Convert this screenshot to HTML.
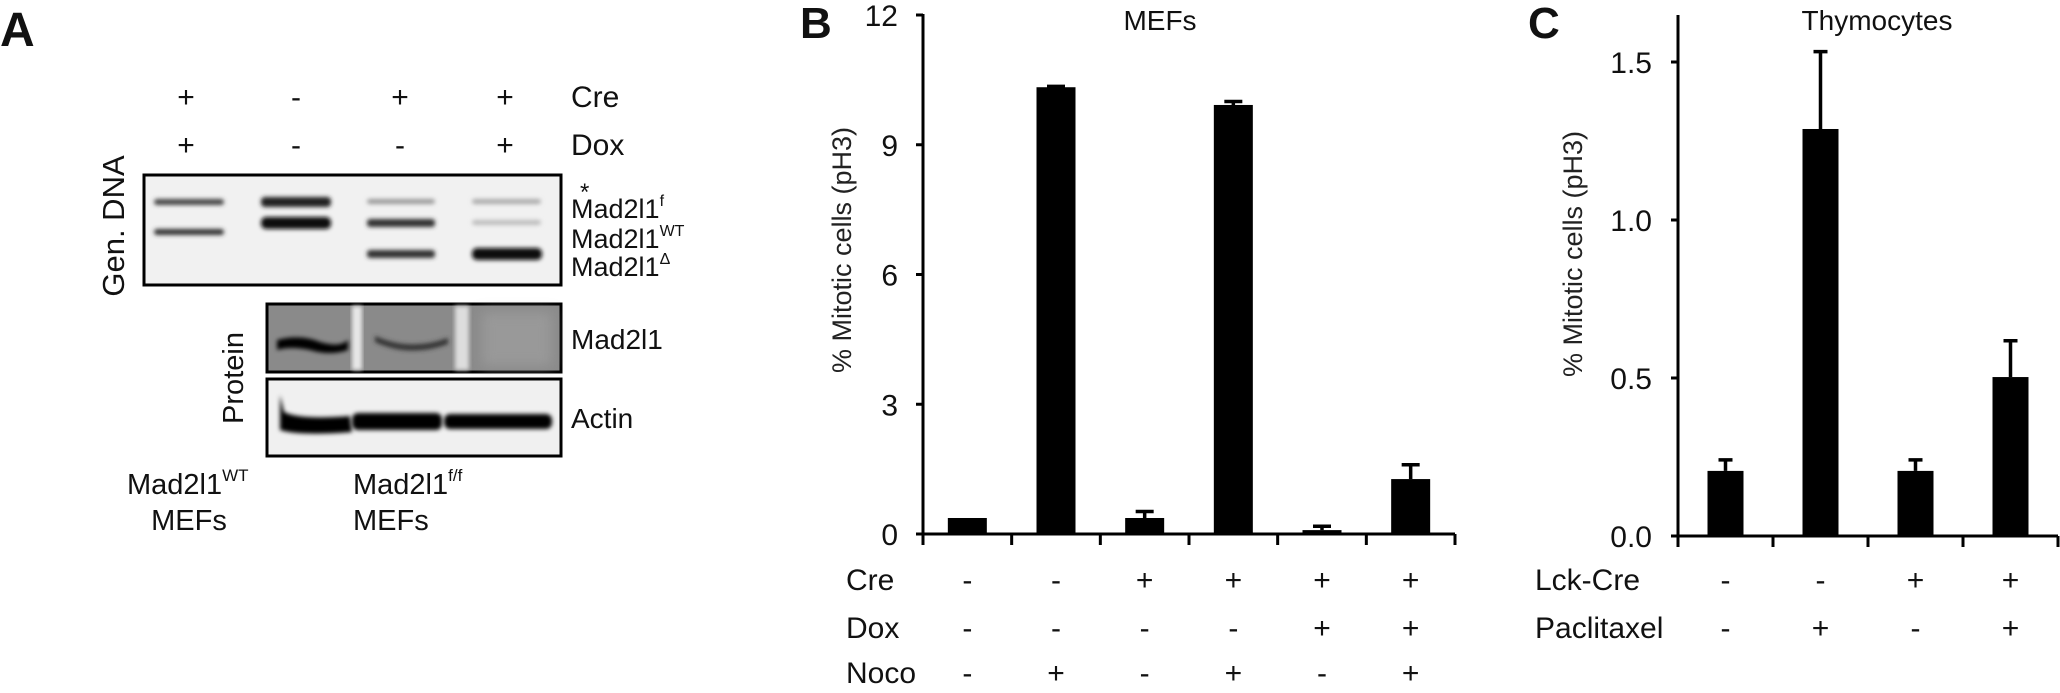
<!DOCTYPE html>
<html><head><meta charset="utf-8"><style>
html,body{margin:0;padding:0;background:#fff;}
svg{display:block;font-family:"Liberation Sans",Arial,sans-serif;}
</style></head><body>
<svg id="fig" width="2060" height="693" viewBox="0 0 2060 693" xmlns="http://www.w3.org/2000/svg">
<defs>
<filter id="blur2" x="-20%" y="-100%" width="140%" height="300%"><feGaussianBlur stdDeviation="2"/></filter>
<filter id="blur5" x="-20%" y="-50%" width="140%" height="200%"><feGaussianBlur stdDeviation="6"/></filter>
</defs>
<!-- Panel A -->
<g fill="#111">
<text x="0" y="46" font-size="48" font-weight="bold">A</text>
<g font-size="30" text-anchor="middle">
<text x="186" y="107">+</text><text x="296" y="107">-</text><text x="400" y="107">+</text><text x="505" y="107">+</text>
<text x="571" y="107" text-anchor="start">Cre</text></g>
<g font-size="30" text-anchor="middle">
<text x="186" y="155">+</text><text x="296" y="155">-</text><text x="400" y="155">-</text><text x="505" y="155">+</text>
<text x="571" y="155" text-anchor="start">Dox</text></g>
<text font-size="31" text-anchor="middle" transform="translate(124,226) rotate(-90)">Gen. DNA</text>
<g>
<rect x="144" y="175" width="417" height="110" fill="#f1f1f1" stroke="#000" stroke-width="3"/>
<g filter="url(#blur2)">
<rect x="154" y="199" width="70" height="6" rx="3" fill="#444"/>
<rect x="154" y="229" width="70" height="6" rx="3" fill="#333"/>
<rect x="261" y="197" width="70" height="10" rx="4" fill="#222"/>
<rect x="261" y="217" width="70" height="12" rx="5" fill="#111"/>
<rect x="367" y="199" width="68" height="5" rx="3" fill="#999"/>
<rect x="367" y="219" width="68" height="8" rx="3" fill="#333"/>
<rect x="367" y="250" width="68" height="8" rx="3" fill="#333"/>
<rect x="472" y="199" width="69" height="5" rx="3" fill="#aaa"/>
<rect x="472" y="220" width="69" height="5" rx="3" fill="#bbb"/>
<rect x="472" y="248" width="70" height="12" rx="5" fill="#111"/>
</g></g>
<text x="580" y="200" font-size="24">*</text>
<g font-size="27">
<text x="571" y="218">Mad2l1<tspan font-size="16" dy="-12">f</tspan></text>
<text x="571" y="248">Mad2l1<tspan font-size="16" dy="-12">WT</tspan></text>
<text x="571" y="276">Mad2l1<tspan font-size="16" dy="-12">Δ</tspan></text>
</g>
<text font-size="29" text-anchor="middle" transform="translate(243,378) rotate(-90)">Protein</text>
<g>
<rect x="267" y="304" width="294" height="68" fill="#8a8a8a" stroke="#000" stroke-width="3"/>
<rect x="352" y="306" width="10" height="64" fill="#e8e8e8" filter="url(#blur2)"/>
<rect x="455" y="306" width="14" height="64" fill="#ddd" filter="url(#blur2)"/>
<path d="M277 340 Q300 334 320 342 Q340 348 348 340 L348 350 Q330 356 310 350 Q290 346 277 350 Z" fill="#000" filter="url(#blur2)"/>
<path d="M375 336 Q410 352 448 338 L448 344 Q410 358 375 342 Z" fill="#333" filter="url(#blur2)"/>
<rect x="482" y="312" width="70" height="54" fill="#999" filter="url(#blur5)"/>
</g>
<text x="571" y="349" font-size="28">Mad2l1</text>
<g>
<rect x="267" y="379" width="294" height="77" fill="#f0f0f0" stroke="#000" stroke-width="3"/>
<path d="M280 395 L284 412 Q300 420 350 416 L352 432 Q300 436 280 430 Z" fill="#000" filter="url(#blur2)"/>
<rect x="352" y="413" width="90" height="17" rx="6" fill="#000" filter="url(#blur2)"/>
<rect x="444" y="414" width="108" height="15" rx="6" fill="#000" filter="url(#blur2)"/>
</g>
<text x="571" y="428" font-size="28">Actin</text>
<g font-size="29">
<text x="127" y="494">Mad2l1<tspan font-size="17" dy="-13">WT</tspan></text>
<text x="189" y="530" text-anchor="middle">MEFs</text>
<text x="353" y="494">Mad2l1<tspan font-size="17" dy="-13">f/f</tspan></text>
<text x="353" y="530">MEFs</text>
</g>
</g>
<g id="panelB"></g>
<g id="panelC"></g>
</svg>
<script>
// Panel B data
const bConditions = ["-/-/-", "-/-/+", "+/-/-", "+/-/+", "+/+/-", "+/+/+"];
const bValues = [0.37, 10.33, 0.37, 9.92, 0.09, 1.27];
const bErrors = [0.0, 0.02, 0.15, 0.08, 0.09, 0.33];
const bTicks = [0, 3, 6, 9, 12];
const bCre = ["-", "-", "+", "+", "+", "+"];
const bDox = ["-", "-", "-", "-", "+", "+"];
const bNoco = ["-", "+", "-", "+", "-", "+"];
// Panel C data
const cConditions = ["-/-", "-/+", "+/-", "+/+"];
const cValues = [0.206, 1.288, 0.206, 0.503];
const cErrors = [0.035, 0.245, 0.035, 0.115];
const cTicks = ["0.0", "0.5", "1.0", "1.5"];
const cLck = ["-", "-", "+", "+"];
const cPac = ["-", "+", "-", "+"];

const NS = "http://www.w3.org/2000/svg";
function mk(parent, tag, attrs, text) {
  const e = document.createElementNS(NS, tag);
  for (const k in attrs) e.setAttribute(k, attrs[k]);
  if (text !== undefined) e.textContent = text;
  parent.appendChild(e);
  return e;
}

function drawChart(g, cfg) {
  const y = v => cfg.y0 - v * cfg.ppu;
  const n = cfg.values.length;
  const step = (cfg.xEnd - cfg.x0) / n;
  const cx = i => cfg.x0 + (i + 0.5) * step;
  // letter
  const L = mk(g, "text", {x: cfg.letterX, y: 38, "font-size": 44, "font-weight": "bold", fill: "#111"}, cfg.letter);
  
  
  const T = mk(g, "text", {x: cfg.titleX, y: 30, "font-size": 28, "text-anchor": "middle", fill: "#111"}, cfg.title);
  
  
  // bars
  for (let i = 0; i < n; i++) {
    const v = cfg.values[i], e = cfg.errors[i];
    const b = mk(g, "rect", {x: cx(i) - cfg.bw / 2, y: y(v), width: cfg.bw, height: y(0) - y(v), fill: "#000"});
    
    
    if (e > 0) {
      const eb = mk(g, "path", {d: `M${cx(i)} ${y(v)} V${y(v + e)} M${cx(i) - cfg.cap / 2} ${y(v + e)} H${cx(i) + cfg.cap / 2}`, stroke: "#000", "stroke-width": 3.5, fill: "none"});
      
      
    }
  }
  // axes
  const ax = mk(g, "path", {d: `M${cfg.x0} ${cfg.yTop} V${cfg.y0} H${cfg.xEnd}`, stroke: "#000", "stroke-width": 3, fill: "none"});
  
  
  for (let i = 0; i <= n; i++) {
    const t = mk(g, "line", {x1: cfg.x0 + i * step, x2: cfg.x0 + i * step, y1: cfg.y0, y2: cfg.y0 + 11, stroke: "#000", "stroke-width": 3});
    
    
  }
  cfg.ticks.forEach(tv => {
    const v = parseFloat(tv);
    const t = mk(g, "line", {x1: cfg.x0 - 7, x2: cfg.x0, y1: y(v), y2: y(v), stroke: "#000", "stroke-width": 3});
    
    
    const l = mk(g, "text", {x: cfg.labelRight, y: y(v) + 11, "font-size": 30, "text-anchor": "end", fill: "#111"}, String(tv));
    
    
  });
  const yl = mk(g, "text", {transform: `translate(${cfg.yLabelX},${cfg.yLabelY}) rotate(-90)`, "font-size": 27, "text-anchor": "middle", fill: "#222"}, "% Mitotic cells (pH3)");
  
  
  cfg.rows.forEach((row, r) => {
    const ry = cfg.rowY[r];
    const rl = mk(g, "text", {x: cfg.rowLabelX, y: ry + 11, "font-size": 30, fill: "#111"}, row.name);
    
    
    row.vals.forEach((s, i) => {
      const st = mk(g, "text", {x: cx(i), y: ry + 11, "font-size": 30, "text-anchor": "middle", fill: "#111"}, s);
      
      
    });
  });
}

drawChart(document.getElementById("panelB"), {
  letter: "B", letterX: 800, title: "MEFs", titleX: 1160,
  values: bValues, errors: bErrors, ticks: bTicks,
  x0: 923, xEnd: 1455, y0: 534, yTop: 14, ppu: 43.25, bw: 39, cap: 18,
  labelRight: 898, yLabelX: 851, yLabelY: 250,
  rowLabelX: 846, rowY: [579, 627, 672],
  rows: [{name: "Cre", vals: bCre}, {name: "Dox", vals: bDox}, {name: "Noco", vals: bNoco}]
});
drawChart(document.getElementById("panelC"), {
  letter: "C", letterX: 1528, title: "Thymocytes", titleX: 1877,
  values: cValues, errors: cErrors, ticks: cTicks,
  x0: 1678, xEnd: 2058, y0: 536, yTop: 15, ppu: 316, bw: 36, cap: 14,
  labelRight: 1652, yLabelX: 1582, yLabelY: 254,
  rowLabelX: 1535, rowY: [579, 627],
  rows: [{name: "Lck-Cre", vals: cLck}, {name: "Paclitaxel", vals: cPac}]
});
</script>
</body></html>
